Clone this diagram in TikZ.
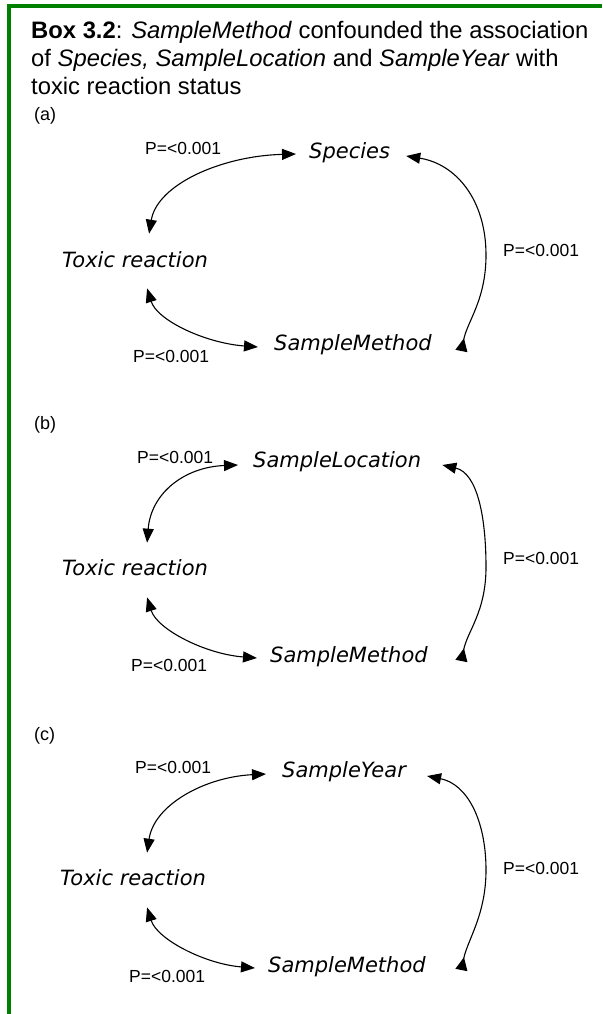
\documentclass[tikz,border=0pt]{standalone}
\usepackage{fontspec}
\setmainfont{Liberation Sans}
\newfontfamily\dvsans{DejaVu Sans}
\usetikzlibrary{arrows.meta,calc}
\definecolor{boxgreen}{RGB}{0,128,0}
\tikzset{
  titletext/.style={font=\fontsize{23.8}{27.5}\selectfont, inner sep=0pt, anchor=base west},
  varname/.style={font=\dvsans\itshape\fontsize{21}{24}\selectfont, inner sep=0pt, anchor=west},
  pval/.style={font=\fontsize{17.5}{20}\selectfont, inner sep=0pt, anchor=west},
  panellabel/.style={font=\fontsize{18}{20}\selectfont, inner sep=0pt, anchor=west},
  link/.style={line width=1.1pt, {Triangle[length=14pt,width=11pt]}-{Triangle[length=14pt,width=11pt]}},
  linkrev/.style={line width=1.1pt, {Triangle[length=14pt,width=11pt]}-{Triangle[length=13pt,width=12pt,reversed]}},
  frameline/.style={boxgreen, line width=4pt}
}
\begin{document}
\begin{tikzpicture}[x=1pt,y=-1pt]
\useasboundingbox (0,0) rectangle (602,1014);
% frame
\coordinate (ftr) at (602,6.5);
\coordinate (fbl) at (9,1014);
\draw[frameline] (ftr) -- (7,6.5);
\draw[frameline] (9,4.5) -- (fbl);
% title
\node[titletext] (title1) at (31,39) {\textbf{Box 3.2}: \textit{SampleMethod} confounded the association};
\node[titletext] (title2) at (31,67) {of \textit{Species, SampleLocation} and \textit{SampleYear} with};
\node[titletext] (title3) at (31,95) {toxic reaction status};

% ---------- panel (a)
\node[panellabel] (la) at (34,116) {(a)};
\node[varname] (sa) at (309,153) {Species};
\node[varname] (ta) at (62,260) {Toxic reaction};
\node[varname] (ma) at (274,345) {SampleMethod};
\node[pval] (pa1) at (145,148) {P=<0.001};
\node[pval] (pa2) at (503,250) {P=<0.001};
\node[pval] (pa3) at (133,356) {P=<0.001};
\coordinate (ra) at (486,255);
\draw[link] ($(ta.north)+(14,-18)$) .. controls +(8,-49) and +(-75,2) .. ($(sa.west)+(-13,1)$);
\draw[linkrev] ($(sa.east)+(16,3)$) .. controls +(50,8) and +(0,-55) .. (ra) .. controls +(0,45) and +(6,-30) .. ($(ma.east)+(29.5,6)$);
\draw[link] ($(ta.south)+(12,20)$) .. controls +(10,32) and +(-53,-4) .. ($(ma.west)+(-16,2)$);

% ---------- panel (b)
\node[panellabel] (lb) at (34,425) {(b)};
\node[varname] (sb) at (253,462) {SampleLocation};
\node[varname] (tb) at (62,568) {Toxic reaction};
\node[varname] (mb) at (270,657) {SampleMethod};
\node[pval] (pb1) at (137,457) {P=<0.001};
\node[pval] (pb2) at (503,558) {P=<0.001};
\node[pval] (pb3) at (131,665) {P=<0.001};
\coordinate (rb) at (486,567);
\draw[link] ($(tb.north)+(12,-17)$) .. controls +(4,-50) and +(-53,2) .. ($(sb.west)+(-15,3)$);
\draw[linkrev] ($(sb.east)+(21,3)$) .. controls +(35,8) and +(0,-50) .. (rb) .. controls +(0,45) and +(6,-30) .. ($(mb.east)+(33.5,4)$);
\draw[link] ($(tb.south)+(12,21)$) .. controls +(10,32) and +(-52,-4) .. ($(mb.west)+(-13,1)$);

% ---------- panel (c)
\node[panellabel] (lc) at (34,736) {(c)};
\node[varname] (sc) at (282,772) {SampleYear};
\node[varname] (tc) at (60,878) {Toxic reaction};
\node[varname] (mc) at (268,967) {SampleMethod};
\node[pval] (pc1) at (135,767) {P=<0.001};
\node[pval] (pc2) at (503,868) {P=<0.001};
\node[pval] (pc3) at (129,976) {P=<0.001};
\coordinate (rc) at (486,870);
\draw[link] ($(tc.north)+(14,-17)$) .. controls +(7,-48) and +(-61,3) .. ($(sc.west)+(-16,2)$);
\draw[linkrev] ($(sc.east)+(21,4)$) .. controls +(40,8) and +(0,-50) .. (rc) .. controls +(0,45) and +(6,-30) .. ($(mc.east)+(35.5,3)$);
\draw[link] ($(tc.south)+(14,21)$) .. controls +(10,32) and +(-50,-4) .. ($(mc.west)+(-13,1)$);
\end{tikzpicture}
\end{document}
